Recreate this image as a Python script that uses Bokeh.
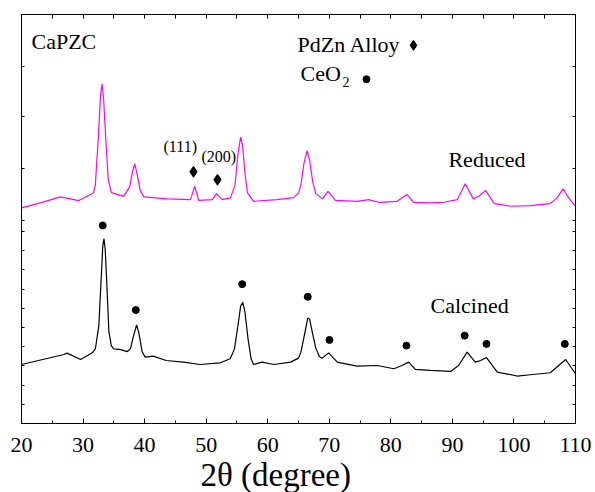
from bokeh.plotting import figure
from bokeh.models import LinearAxis, FixedTicker, Label, Range1d, CustomJSTickFormatter, Title
from bokeh.embed import file_html
from bokeh.resources import INLINE

# ---- data (2theta in degrees, intensity in a.u.) ----
calc_2theta = [20, 26.9, 27.4, 29.6, 31.5, 32.0, 32.56, 32.9, 33.2, 33.4, 33.6, 33.9, 34.2, 34.6,
               35.0, 36.1, 37.2, 37.7, 38.2, 38.7, 39.1, 39.6, 40.1, 41.4, 43.5, 46.3, 49.0,
               52.3, 53.9, 54.6, 55.2, 55.6, 55.95, 56.3, 56.8, 57.3, 57.7, 59.1, 61.0, 63.7,
               65.0, 65.4, 66.0, 66.5, 66.8, 67.3, 67.8, 68.4, 68.85, 69.9, 71.3, 74.5, 77.8,
               80.5, 81.8, 82.9, 84.0, 86.4, 89.7, 91.0, 92.4, 93.7, 94.6, 95.54, 97.3,
               100.5, 102.7, 105.9, 107.0, 108.4, 110]
calc_int = [59.3, 69.3, 70.7, 64.3, 71, 75, 98.3, 140, 178, 185.7, 175, 135, 92, 78,
            75, 74.3, 72.3, 75, 88, 99, 90, 72, 66.7, 67.7, 63.3, 61.7, 59.3,
            61, 65, 75, 100, 118, 121.7, 112, 85, 65, 59.3, 61.7, 59.3, 61.7,
            65.7, 72, 90, 106, 105, 90, 76, 67, 65.7, 71, 61.7, 57.7, 58.3,
            55, 58.3, 61.7, 54.3, 53.3, 52.3, 58.3, 71.7, 61.7, 63.3, 66.3, 51.7,
            47.7, 49, 51, 56.7, 64.3, 50]

red_2theta = [20, 23.1, 26.3, 29.3, 31.7, 32.0, 32.5, 32.85, 33.1, 33.35, 33.7, 34.1, 34.6,
              36.6, 37.6, 38.0, 38.4, 38.8, 39.3, 39.9, 43.7, 47.45, 48.15, 48.8, 51.0, 51.7,
              52.6, 53.95, 54.7, 55.15, 55.6, 55.9, 56.3, 56.7, 57.7, 61.5, 64.2, 65.05,
              65.4, 65.9, 66.4, 66.8, 67.3, 67.8, 68.9, 69.8, 71.0, 74.5, 76.4,
              78.0, 81.0, 82.65, 83.7, 86.4, 88.6, 90.8, 92.1, 93.4, 94.3, 95.4, 96.8,
              99.4, 102.7, 105.9, 107.0, 108.0, 108.9, 110]
red_int = [216.7, 221.7, 227.7, 224, 231.7, 240, 290, 330, 341, 325, 285, 245, 232,
           228.3, 238, 252, 261, 250, 234, 227.7, 225.7, 225, 238.3, 224.3, 225, 231,
           225, 226.7, 240, 270, 287.7, 280, 252, 232, 223.3, 225, 227, 231.7,
           240, 262, 274.3, 265, 243, 231, 225.7, 233.3, 224.3, 223.3, 225,
           222.3, 223.3, 230, 222.3, 221.7, 222.3, 225, 241, 225.7, 228.3, 234.3, 221,
           218.3, 219, 221, 226.7, 235.7, 226.7, 218.3]

ceo2_2theta = [33.2, 38.57, 55.85, 66.5, 70.03, 82.54, 92.0, 95.54, 108.26]
ceo2_mark = [199, 114, 140, 127.3, 84, 78.3, 88.3, 80, 80]

pdzn_2theta = [47.94, 51.84]
pdzn_mark = [253, 245]

x_ticks = [20, 30, 40, 50, 60, 70, 80, 90, 100, 110]
top_ticks = list(range(20, 111, 5))
side_ticks = [19.3, 38.6, 57.9, 77.2, 96.5, 115.8, 135.1, 154.4, 173.7, 193, 204, 256, 308, 359]

FONT = "Liberation Serif"

p = figure(width=595, height=492, output_backend="svg", toolbar_location=None,
           x_range=Range1d(20, 110), y_range=Range1d(0, 411),
           min_border_left=21, min_border_right=20, min_border_top=14, min_border_bottom=67,
           x_axis_location=None, y_axis_location=None)
p.grid.visible = False
p.outline_line_color = "black"
p.outline_line_width = 1
p.background_fill_color = "white"
p.border_fill_color = "white"

blank = CustomJSTickFormatter(code="return '';")

# bottom axis
xb = LinearAxis(ticker=FixedTicker(ticks=x_ticks, minor_ticks=top_ticks))
xb.major_tick_in = 5
xb.major_tick_out = 0
xb.minor_tick_in = 3
xb.minor_tick_out = 0
xb.major_label_text_font = FONT
xb.major_label_text_font_size = "22px"
xb.major_label_text_color = "black"
xb.major_label_standoff = 14
xb.axis_line_color = "black"
xb.major_tick_line_color = "black"
xb.minor_tick_line_color = "black"
p.add_layout(xb, "below")

# x-axis title, placed below the tick labels
p.add_layout(Title(text="2θ (degree)", align="left", offset=179, standoff=0,
                   text_font=FONT, text_font_size="33px", text_font_style="normal",
                   text_color="black"), "below")

# top axis (ticks only)
xt = LinearAxis(ticker=FixedTicker(ticks=top_ticks), formatter=blank)
xt.major_tick_in = 4
xt.major_tick_out = 0
xt.minor_tick_line_color = None
xt.major_label_standoff = 0
xt.axis_line_color = "black"
p.add_layout(xt, "above")

# left / right axes (ticks only)
for side in ("left", "right"):
    ax = LinearAxis(ticker=FixedTicker(ticks=side_ticks), formatter=blank)
    ax.major_tick_in = 3
    ax.major_tick_out = 0
    ax.minor_tick_line_color = None
    ax.major_label_standoff = 0
    ax.axis_line_color = "black"
    p.add_layout(ax, side)

# traces
p.line(red_2theta, red_int, line_color="#ff00ff", line_width=1.2)
p.line(calc_2theta, calc_int, line_color="black", line_width=1.2)

# phase markers
p.scatter(ceo2_2theta, ceo2_mark, marker="circle", size=7, fill_color="black", line_color="black")
p.scatter(pdzn_2theta, pdzn_mark, marker="diamond", size=11, fill_color="black", line_color="black")

# legend-like markers
p.scatter([83.68], [380], marker="diamond", size=10, fill_color="black", line_color="black")
p.scatter([76.04], [346], marker="circle", size=7, fill_color="black", line_color="black")

def lab(x, y, t, size):
    p.add_layout(Label(x=x, y=y, text=t, text_font=FONT, text_font_size=size,
                       text_color="black", text_baseline="alphabetic", text_align="left"))

lab(21.62, 384, "CaPZC", "22px")
lab(64.83, 380.5, "PdZn Alloy", "22px")
lab(65.32, 352, "CeO", "22px")
lab(72.14, 343, "2", "14px")
lab(89.36, 265.5, "Reduced", "22px")
lab(86.44, 118.5, "Calcined", "22px")
lab(43.07, 278, "(111)", "16px")
lab(49.24, 268, "(200)", "16px")

open("out.html", "w").write(file_html(p, INLINE))
